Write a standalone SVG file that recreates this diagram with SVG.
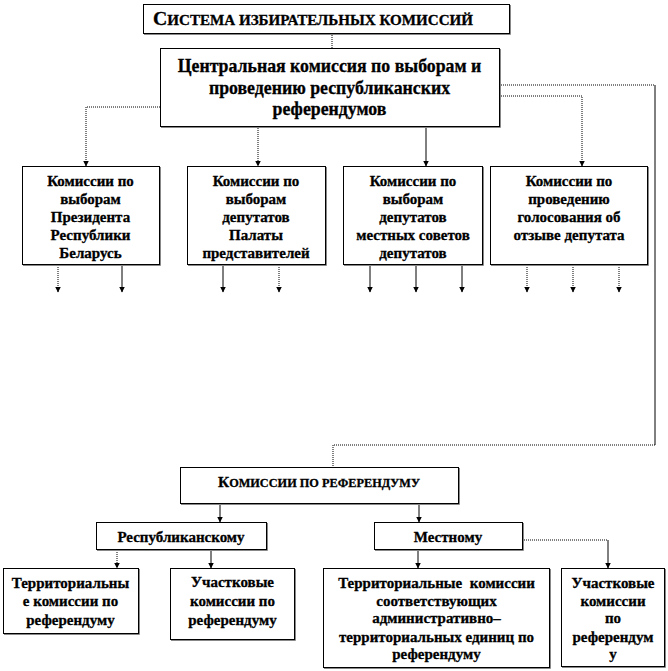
<svg xmlns="http://www.w3.org/2000/svg" width="668" height="671" viewBox="0 0 668 671">
<style>
text{font-family:'Liberation Serif','DejaVu Serif',serif;font-weight:bold;fill:#000;stroke:#000;stroke-width:0.3;text-anchor:middle}
.t{font-size:15px}
.big{font-size:17.8px}
.box{fill:#fff;stroke:#000;stroke-width:1}
.sh{fill:none;stroke:#888;stroke-width:1}
.ln{fill:none;stroke:#000;stroke-width:1}
.dt{fill:none;stroke:#000;stroke-width:1;stroke-dasharray:1,1}
</style>
<defs>
<marker id="av" viewBox="0 0 6 6" refX="3" refY="5.5" markerWidth="6" markerHeight="6" markerUnits="userSpaceOnUse" orient="0">
<path d="M0,0 L6,0 L3,6 Z" fill="#000"/>
</marker>
</defs>

<g id="connectors">
<path class="dt" d="M332,33 V48"/>
<path class="dt" d="M160,107 H86 V166" marker-end="url(#av)"/>
<path class="dt" d="M258,126 V166" marker-end="url(#av)"/>
<path class="ln" d="M426,126 V166" marker-end="url(#av)"/>
<path class="dt" d="M499,96 H582 V166" marker-end="url(#av)"/>
<path class="dt" d="M499,85 H655"/>
<path class="ln" d="M655,85 V445"/>
<path class="dt" d="M655,445 H333 V467"/>
<path class="dt" d="M58,265 V292" marker-end="url(#av)"/>
<path class="ln" d="M122,265 V292" marker-end="url(#av)"/>
<path class="ln" d="M223,265 V292" marker-end="url(#av)"/>
<path class="dt" d="M279,265 V292" marker-end="url(#av)"/>
<path class="ln" d="M370,265 V292" marker-end="url(#av)"/>
<path class="ln" d="M416,265 V292" marker-end="url(#av)"/>
<path class="ln" d="M462,265 V292" marker-end="url(#av)"/>
<path class="dt" d="M527,265 V292" marker-end="url(#av)"/>
<path class="dt" d="M573,265 V292" marker-end="url(#av)"/>
<path class="dt" d="M619,265 V292" marker-end="url(#av)"/>
<path class="ln" d="M220,504 V522" marker-end="url(#av)"/>
<path class="ln" d="M419,504 V522" marker-end="url(#av)"/>
<path class="dt" d="M117,550 V568" marker-end="url(#av)"/>
<path class="ln" d="M211,550 V568" marker-end="url(#av)"/>
<path class="ln" d="M418,550 V568" marker-end="url(#av)"/>
<path class="dt" d="M522,540 H608"/>
<path class="ln" d="M608,540 V568" marker-end="url(#av)"/>
</g>

<g id="title">
<rect class="box" x="143.5" y="4.5" width="366" height="29"/>
<path class="sh" d="M510.5,5 V34.5 H144"/>
<text x="313" y="25" textLength="320" lengthAdjust="spacingAndGlyphs"><tspan font-size="19">С</tspan><tspan font-size="14.5">ИСТЕМА ИЗБИРАТЕЛЬНЫХ КОМИССИЙ</tspan></text>
</g>

<g id="central">
<rect class="box" x="160.5" y="48.5" width="339" height="78"/>
<path class="sh" d="M500.5,49 V127.5 H161"/>
<text class="big" x="329.5" y="72">Центральная комиссия по выборам и</text>
<text class="big" x="329.5" y="93.5">проведению республиканских</text>
<text class="big" x="329.5" y="115">референдумов</text>
</g>

<g id="box-president">
<rect class="box" x="22.5" y="166.5" width="137" height="98"/>
<path class="sh" d="M160.5,167 V265.5 H23"/>
<text class="t" x="90.5" y="186">Комиссии по</text>
<text class="t" x="90.5" y="204">выборам</text>
<text class="t" x="90.5" y="222">Президента</text>
<text class="t" x="90.5" y="240">Республики</text>
<text class="t" x="90.5" y="258">Беларусь</text>
</g>

<g id="box-palata">
<rect class="box" x="187.5" y="166.5" width="138" height="98"/>
<path class="sh" d="M326.5,167 V265.5 H188"/>
<text class="t" x="256" y="186">Комиссии по</text>
<text class="t" x="256" y="204">выборам</text>
<text class="t" x="256" y="222">депутатов</text>
<text class="t" x="256" y="240">Палаты</text>
<text class="t" x="256" y="258">представителей</text>
</g>

<g id="box-local">
<rect class="box" x="343.5" y="166.5" width="139" height="98"/>
<path class="sh" d="M483.5,167 V265.5 H344"/>
<text class="t" x="413" y="186">Комиссии по</text>
<text class="t" x="413" y="204">выборам</text>
<text class="t" x="413" y="222">депутатов</text>
<text class="t" x="413" y="240">местных советов</text>
<text class="t" x="413" y="258">депутатов</text>
</g>

<g id="box-recall">
<rect class="box" x="490.5" y="166.5" width="157" height="98"/>
<path class="sh" d="M648.5,167 V265.5 H491"/>
<text class="t" x="569" y="186">Комиссии по</text>
<text class="t" x="569" y="204">проведению</text>
<text class="t" x="569" y="222">голосования об</text>
<text class="t" x="569" y="240">отзыве депутата</text>
</g>

<g id="referendum">
<rect class="box" x="180.5" y="467.5" width="278" height="36"/>
<path class="sh" d="M459.5,468 V504.5 H181"/>
<text x="319" y="487" textLength="202" lengthAdjust="spacingAndGlyphs"><tspan font-size="15">К</tspan><tspan font-size="12">ОМИССИИ ПО РЕФЕРЕНДУМУ</tspan></text>
</g>

<g id="republican">
<rect class="box" x="96.5" y="522.5" width="170" height="27"/>
<path class="sh" d="M267.5,523 V550.5 H97"/>
<text class="t" x="181" y="542">Республиканскому</text>
</g>

<g id="mestnomu">
<rect class="box" x="374.5" y="522.5" width="148" height="27"/>
<path class="sh" d="M523.5,523 V550.5 H375"/>
<text class="t" x="448" y="542">Местному</text>
</g>

<g id="rep-territorial">
<rect class="box" x="3.5" y="568.5" width="135" height="65"/>
<path class="sh" d="M139.5,569 V634.5 H4"/>
<text class="t" x="70.5" y="588">Территориальны</text>
<text class="t" x="70.5" y="606">е комиссии по</text>
<text class="t" x="70.5" y="625">референдуму</text>
</g>

<g id="rep-precinct">
<rect class="box" x="170.5" y="568.5" width="124" height="71"/>
<path class="sh" d="M295.5,569 V640.5 H171"/>
<text class="t" x="232.5" y="587">Участковые</text>
<text class="t" x="232.5" y="606">комиссии по</text>
<text class="t" x="232.5" y="625">референдуму</text>
</g>

<g id="loc-territorial">
<rect class="box" x="323.5" y="568.5" width="226" height="99"/>
<path class="sh" d="M550.5,569 V668.5 H324"/>
<text class="t" x="436.5" y="588" xml:space="preserve">Территориальные  комиссии</text>
<text class="t" x="436.5" y="606">соответствующих</text>
<text class="t" x="436.5" y="623">административно–</text>
<text class="t" x="436.5" y="642">территориальных единиц по</text>
<text class="t" x="436.5" y="659">референдуму</text>
</g>

<g id="loc-precinct">
<rect class="box" x="561.5" y="568.5" width="103" height="98"/>
<path class="sh" d="M665.5,569 V667.5 H562"/>
<text class="t" x="613" y="588">Участковые</text>
<text class="t" x="613" y="606">комиссии</text>
<text class="t" x="613" y="623">по</text>
<text class="t" x="613" y="642">референдум</text>
<text class="t" x="613" y="659">у</text>
</g>
</svg>
